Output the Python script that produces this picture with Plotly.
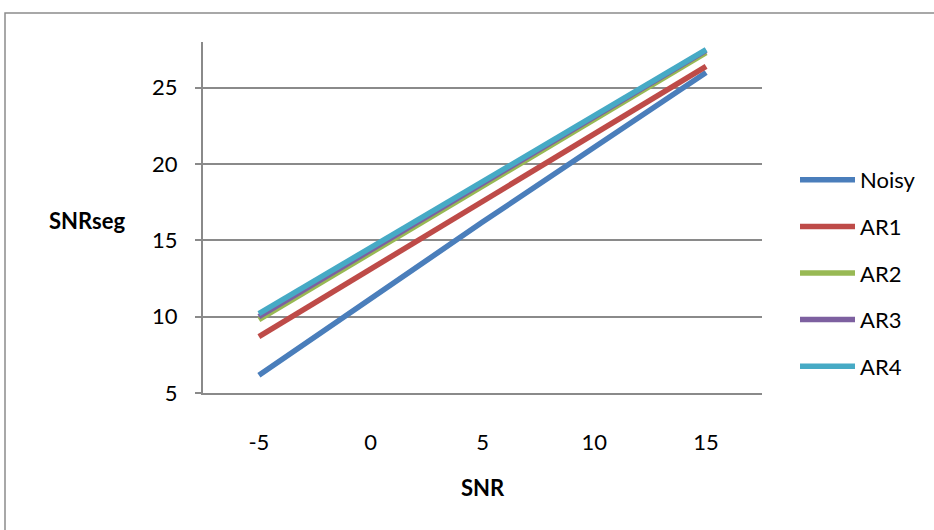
import plotly.graph_objects as go

snr = [-5, 0, 5, 10, 15]
series_names = ["Noisy", "AR1", "AR2", "AR3", "AR4"]
noisy = [6.16, 11.2, 16.2, 21.1, 26.0]
ar1 = [8.7, 13.1, 17.5, 22.0, 26.4]
ar2 = [9.8, 14.2, 18.6, 22.9, 27.3]
ar3 = [10.0, 14.4, 18.75, 23.1, 27.45]
ar4 = [10.2, 14.55, 18.9, 23.2, 27.5]
y_ticks = [5, 10, 15, 20, 25]
colors = ["#4A7EBB", "#BE4B48", "#98B954", "#7D60A0", "#46AAC5"]

FONT = "Lato, 'Liberation Sans', sans-serif"
GRID = "#8a8a8a"

# plot area in pixels
L, R, T, B = 203, 762, 42, 393
W, H = 934, 530
def px(x):
    return (x - L) / (R - L)
def py(y):
    return (B - y) / (B - T)

fig = go.Figure()
for i, (name, vals) in enumerate(zip(series_names, [noisy, ar1, ar2, ar3, ar4])):
    fig.add_trace(go.Scatter(
        x=snr, y=vals, mode="lines", name=name,
        line=dict(color=colors[i], width=5.5),
        legendgroup=name,
    ))

fig.update_layout(
    width=W, height=H,
    margin=dict(l=L, r=W - R, t=T, b=H - B),
    paper_bgcolor="white", plot_bgcolor="white",
    font=dict(family=FONT, size=22, color="black"),
    showlegend=True,
    legend=dict(
        x=px(795), y=py(159), xanchor="left", yanchor="top",
        font=dict(size=22, family=FONT),
        tracegroupgap=15, itemwidth=55,
        bgcolor="rgba(0,0,0,0)",
    ),
    xaxis=dict(
        range=[-7.5, 17.5], tickvals=snr, ticktext=[str(v) for v in snr],
        showgrid=False, zeroline=False,
        showline=True, linecolor=GRID, linewidth=2,
        ticks="outside", ticklen=0, ticklabelstandoff=29,
    ),
    yaxis=dict(
        range=[5, 28], tickvals=y_ticks,
        showgrid=True, gridcolor=GRID, gridwidth=1.5,
        zeroline=False,
        showline=True, linecolor=GRID, linewidth=2,
        ticks="outside", ticklen=6, tickcolor=GRID, tickwidth=1.5,
        ticklabelstandoff=13,
    ),
    shapes=[dict(
        type="rect", xref="paper", yref="paper",
        x0=px(5), x1=px(950), y0=py(560), y1=py(13),
        line=dict(color="#8c8c8c", width=1.5), fillcolor="rgba(0,0,0,0)",
    )],
    annotations=[
        dict(text="<b>SNRseg</b>", x=px(87), y=py(220), xref="paper", yref="paper",
             showarrow=False, xanchor="center", yanchor="middle",
             font=dict(size=22, family=FONT)),
        dict(text="<b>SNR</b>", x=px(483), y=py(487), xref="paper", yref="paper",
             showarrow=False, xanchor="center", yanchor="middle",
             font=dict(size=22, family=FONT)),
    ],
)

fig.write_html("out.html")
